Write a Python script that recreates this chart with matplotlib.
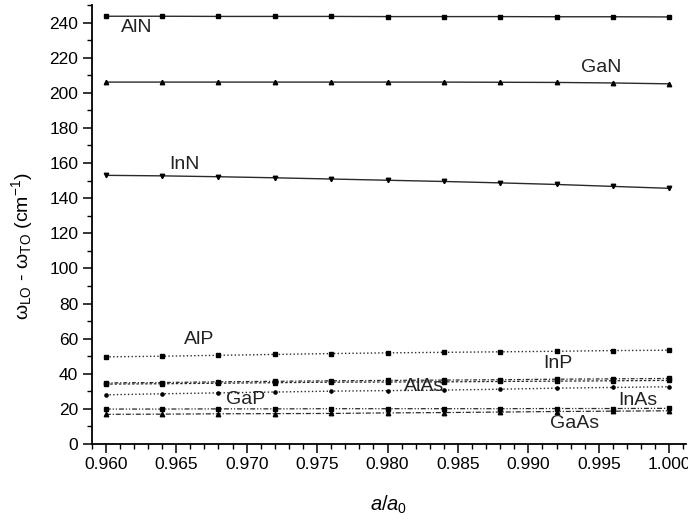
import numpy as np
import matplotlib.pyplot as plt
from matplotlib.ticker import MultipleLocator

plt.rcParams['font.family'] = ['Liberation Sans', 'DejaVu Sans']
plt.rcParams['mathtext.fontset'] = 'custom'
plt.rcParams['mathtext.rm'] = 'Liberation Sans'
plt.rcParams['mathtext.it'] = 'Liberation Sans:italic'

# a/a0 values
x = [0.960, 0.964, 0.968, 0.972, 0.976, 0.980, 0.984, 0.988, 0.992, 0.996, 1.000]

# wLO - wTO (cm^-1)
aln = [243.6, 243.6, 243.5, 243.5, 243.5, 243.4, 243.4, 243.4, 243.3, 243.3, 243.2]
gan = [206.1, 206.1, 206.1, 206.1, 206.1, 206.1, 206.1, 206.0, 205.9, 205.6, 205.1]
inn = [153.0, 152.7, 152.2, 151.6, 150.9, 150.2, 149.5, 148.7, 147.8, 146.7, 145.6]
alp = [49.6, 50.0, 50.5, 51.0, 51.5, 51.9, 52.2, 52.5, 52.8, 53.2, 53.4]
inp = [34.8, 35.0, 35.4, 35.7, 36.0, 36.2, 36.4, 36.6, 36.9, 37.1, 37.3]
alas = [34.1, 34.3, 34.6, 34.9, 35.2, 35.3, 35.4, 35.6, 35.8, 36.0, 36.2]
gap = [28.0, 28.6, 29.1, 29.6, 30.1, 30.4, 30.7, 31.2, 31.8, 32.2, 32.6]
inas = [19.9, 19.9, 20.0, 20.0, 20.1, 20.1, 20.1, 20.1, 20.2, 20.2, 20.3]
gaas = [16.9, 17.0, 17.2, 17.3, 17.4, 17.7, 17.9, 18.2, 18.5, 18.7, 18.9]

fig = plt.figure(figsize=(6.88, 5.21), dpi=100)
ax = fig.add_axes([0.1333, 0.1478, 0.864, 0.8426])

lc = '#2a2a2a'
ax.plot(x, aln, ls='-', color=lc, lw=1, marker='s', ms=2.3, mfc='k', mec='k')
ax.plot(x, gan, ls='-', color=lc, lw=1, marker='^', ms=3.2, mfc='k', mec='k')
ax.plot(x, inn, ls='-', color=lc, lw=1, marker='v', ms=3.2, mfc='k', mec='k')
ax.plot(x, alp, ls=':', color=lc, lw=1, marker='s', ms=2.3, mfc='k', mec='k')
ax.plot(x, inp, ls=(0, (3, 1.5, 1, 1.5)), color=lc, lw=0.9, marker='s', ms=2.8, mfc='k', mec='k')
ax.plot(x, alas, ls=(0, (2, 1.5)), color=lc, lw=0.9, marker='s', ms=2.3, mfc='k', mec='k')
ax.plot(x, gap, ls=':', color=lc, lw=1, marker='o', ms=2.3, mfc='k', mec='k')
ax.plot(x, inas, ls=(0, (4, 1.5, 1, 1.5, 1, 1.5)), color=lc, lw=0.9, marker='s', ms=2.3, mfc='k', mec='k')
ax.plot(x, gaas, ls=(0, (4, 1.5, 1, 1.5)), color=lc, lw=0.9, marker='^', ms=3.2, mfc='k', mec='k')

fs = 14
tc = '#222222'
ax.text(0.9622, 237.1, 'AlN', fontsize=fs, ha='center', va='center', color=tc)
ax.text(0.9952, 214.3, 'GaN', fontsize=fs, ha='center', va='center', color=tc)
ax.text(0.9656, 159.2, 'InN', fontsize=fs, ha='center', va='center', color=tc)
ax.text(0.9666, 59.3, 'AlP', fontsize=fs, ha='center', va='center', color=tc)
ax.text(0.9921, 45.6, 'InP', fontsize=fs, ha='center', va='center', color=tc)
ax.text(0.9826, 32.7, 'AlAs', fontsize=fs, ha='center', va='center', color=tc)
ax.text(0.9699, 25.1, 'GaP', fontsize=fs, ha='center', va='center', color=tc)
ax.text(0.9978, 24.5, 'InAs', fontsize=fs, ha='center', va='center', color=tc)
ax.text(0.9933, 11.4, 'GaAs', fontsize=fs, ha='center', va='center', color=tc)

ax.set_xlim(0.959, 1.0012)
ax.set_ylim(0, 250)
ax.xaxis.set_minor_locator(MultipleLocator(0.001))
ax.yaxis.set_major_locator(MultipleLocator(20))
ax.yaxis.set_minor_locator(MultipleLocator(10))
xt = np.arange(0.960, 1.0001, 0.005)
ax.set_xticks(xt)
ax.set_xticklabels(['%.3f' % v for v in xt])

for s in ['top', 'right']:
    ax.spines[s].set_visible(False)
for s in ['left', 'bottom']:
    ax.spines[s].set_linewidth(1.3)
ax.tick_params(which='major', direction='out', length=6.2, width=1.1, labelsize=12.5, pad=3.5)
ax.tick_params(which='minor', direction='out', length=3.4, width=1.0)

ax.set_xlabel(r'$a/a_{0}$', fontsize=14.5, labelpad=15)
ax.set_ylabel(r'ω$_{\mathregular{LO}}$ - ω$_{\mathregular{TO}}$ (cm$^{\mathregular{-1}}$)', fontsize=14)
ax.yaxis.set_label_coords(-0.095, 0.45)

fig.savefig('out.png', dpi=100)
